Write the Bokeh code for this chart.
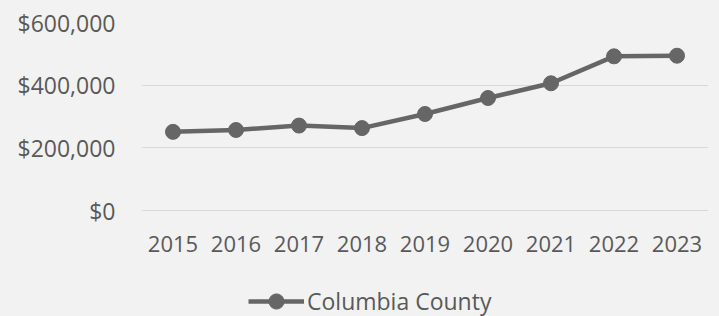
from bokeh.plotting import figure
from bokeh.models import (ColumnDataSource, FixedTicker, NumeralTickFormatter,
                          Legend, LegendItem, Range1d)
from bokeh.embed import file_html
from bokeh.resources import INLINE

years = ["2015", "2016", "2017", "2018", "2019", "2020", "2021", "2022", "2023"]
values = [251000, 257000, 271000, 263000, 308000, 359000, 406000, 492000, 494000]
y_ticks = [0, 200000, 400000, 600000]
series_name = "Columbia County"

BG = "#F2F2F2"
LINE = "#666666"
TEXT = "#595959"
FONT = "Open Sans"

# layout (pixels)
W, H = 719, 316
TOP, LEFT, RIGHT = 22, 141, 11
DATA_H = 188          # pixel height of the 0..600,000 band
BELOW = H - TOP - DATA_H   # room under the $0 line for labels and legend
y_max = y_ticks[-1]
y_min = -y_max * BELOW / DATA_H

src = ColumnDataSource(dict(x=years, y=values))

p = figure(x_range=years, y_range=Range1d(y_min, y_max),
           width=W, height=H, output_backend="svg", toolbar_location=None,
           frame_width=W - LEFT - RIGHT, frame_height=H - TOP,
           min_border_left=LEFT, min_border_right=RIGHT, min_border_top=TOP,
           min_border_bottom=0,
           background_fill_color=BG, border_fill_color=BG)
p.outline_line_color = None

ln = p.line("x", "y", source=src, line_color=LINE, line_width=4.5)
sc = p.scatter("x", "y", source=src, marker="circle", size=15,
               fill_color=LINE, line_color=LINE)

p.yaxis.ticker = FixedTicker(ticks=y_ticks)
p.yaxis.formatter = NumeralTickFormatter(format="$0,0")
for ax in (p.xaxis[0], p.yaxis[0]):
    ax.axis_line_color = None
    ax.major_tick_line_color = None
    ax.minor_tick_line_color = None
    ax.major_tick_out = 0
    ax.major_tick_in = 0
    ax.major_label_text_font = FONT
    ax.major_label_text_color = TEXT
p.xaxis.major_label_text_font_size = "22px"
p.yaxis.major_label_text_font_size = "23px"
p.yaxis.major_label_standoff = 26
p.xaxis.major_label_standoff = 25
p.xaxis.fixed_location = 0

p.xgrid.grid_line_color = None
p.ygrid.grid_line_color = "#D9D9D9"
p.ygrid.grid_line_width = 1.2
p.ygrid.ticker = FixedTicker(ticks=y_ticks)

legend = Legend(items=[LegendItem(label=series_name, renderers=[ln, sc])],
                location=(107, -4), orientation="horizontal",
                glyph_width=56, glyph_height=38, label_standoff=3,
                padding=0, margin=0, spacing=0,
                border_line_color=None, background_fill_alpha=0,
                label_text_font=FONT, label_text_font_size="23px",
                label_text_color=TEXT)
p.add_layout(legend, "center")

html = file_html(p, INLINE)
html = html.replace("</head>",
                    "<style>html, body { background: %s; }</style></head>" % BG, 1)
open("out.html", "w").write(html)
